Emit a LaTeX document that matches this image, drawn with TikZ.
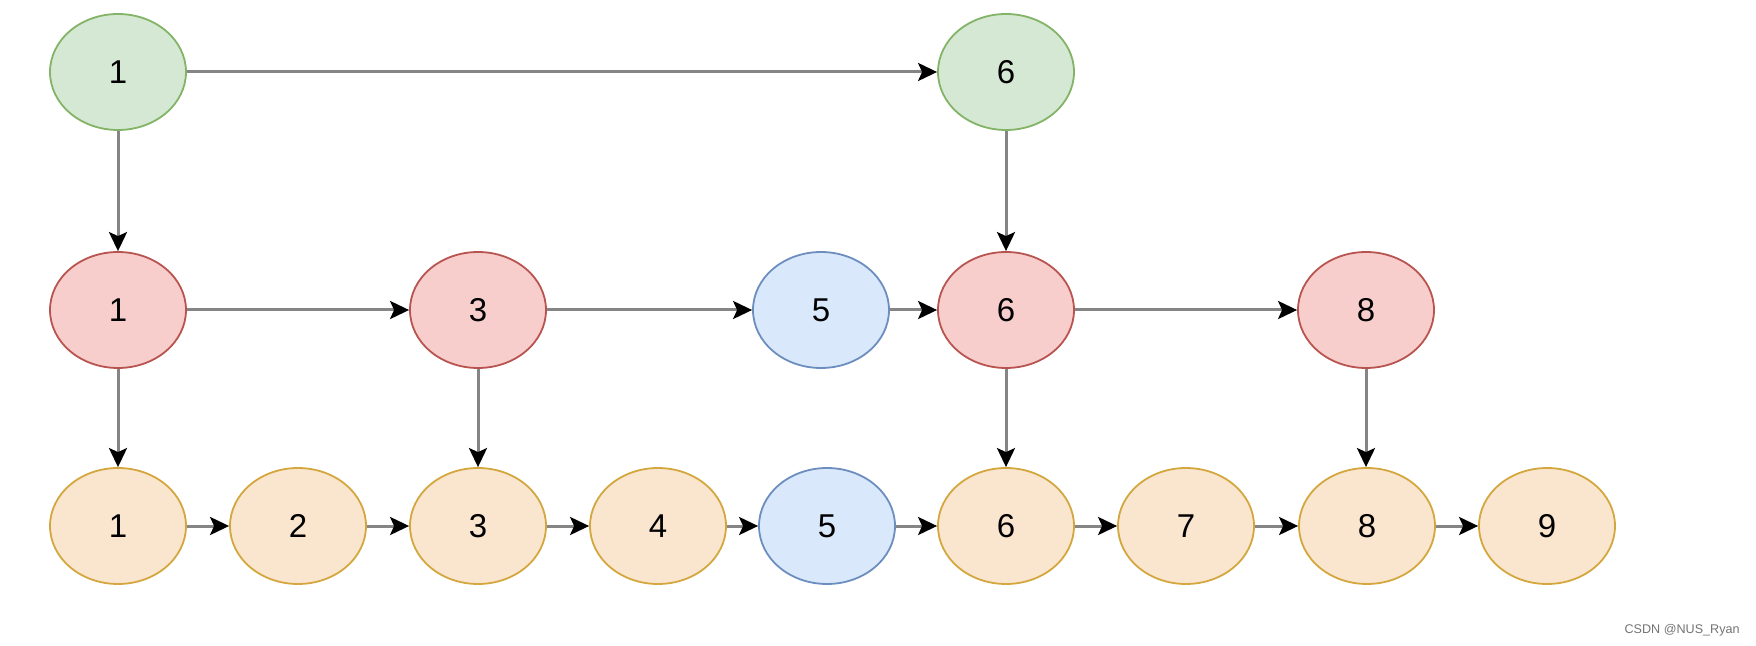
\documentclass[tikz,border=0pt]{standalone}
\usepackage{fontspec}
\setmainfont{Liberation Sans}
\usetikzlibrary{arrows.meta,shapes.geometric}
\definecolor{gfill}{HTML}{D5E8D4}\definecolor{gdraw}{HTML}{82B366}
\definecolor{rfill}{HTML}{F8CECC}\definecolor{rdraw}{HTML}{B85450}
\definecolor{bfill}{HTML}{DAE8FC}\definecolor{bdraw}{HTML}{6C8EBF}
\definecolor{ofill}{HTML}{FAE5CF}\definecolor{odraw}{HTML}{D4A73E}
\definecolor{edgec}{HTML}{858585}
\tikzset{
  nd/.style={ellipse, minimum width=68pt, minimum height=58pt, inner sep=0pt, line width=0.9pt, font=\fontsize{16.5}{18}\selectfont},
  gn/.style={nd, fill=gfill, draw=gdraw},
  rn/.style={nd, fill=rfill, draw=rdraw},
  bn/.style={nd, fill=bfill, draw=bdraw},
  on/.style={nd, fill=ofill, draw=odraw},
  ar/.style={draw=edgec, line width=1.5pt, -{Stealth[length=9.5pt, width=9pt, inset=2pt, color=black]}},
}
\begin{document}
\begin{tikzpicture}[x=0.5pt, y=-0.5pt]
\useasboundingbox (0,0) rectangle (1756,646);
\node[gn] (a1) at (118,72) {1};
\node[gn] (a6) at (1006,72) {6};
\node[rn] (b1) at (118,310) {1};
\node[rn] (b3) at (478,310) {3};
\node[bn] (b5) at (821,310) {5};
\node[rn] (b6) at (1006,310) {6};
\node[rn] (b8) at (1366,310) {8};
\node[on] (c1) at (118,526) {1};
\node[on] (c2) at (298,526) {2};
\node[on] (c3) at (478,526) {3};
\node[on] (c4) at (658,526) {4};
\node[bn] (c5) at (827,526) {5};
\node[on] (c6) at (1006,526) {6};
\node[on] (c7) at (1186,526) {7};
\node[on] (c8) at (1367,526) {8};
\node[on] (c9) at (1547,526) {9};
\draw[ar] (a1) -- (a6);
\draw[ar] (a1) -- (b1);
\draw[ar] (a6) -- (b6);
\draw[ar] (b1) -- (b3);
\draw[ar] (b3) -- (b5);
\draw[ar] (b5) -- (b6);
\draw[ar] (b6) -- (b8);
\draw[ar] (b1) -- (c1);
\draw[ar] (b3) -- (c3);
\draw[ar] (b6) -- (c6);
\draw[ar] (b8.south) -- (b8.south |- c8.north);
\draw[ar] (c1) -- (c2);
\draw[ar] (c2) -- (c3);
\draw[ar] (c3) -- (c4);
\draw[ar] (c4) -- (c5);
\draw[ar] (c5) -- (c6);
\draw[ar] (c6) -- (c7);
\draw[ar] (c7) -- (c8);
\draw[ar] (c8) -- (c9);
\node[anchor=east, text=black!55, font=\fontsize{6.3}{7}\selectfont, inner sep=0pt] (wm) at (1740,630) {CSDN @NUS\_Ryan};
\end{tikzpicture}
\end{document}
